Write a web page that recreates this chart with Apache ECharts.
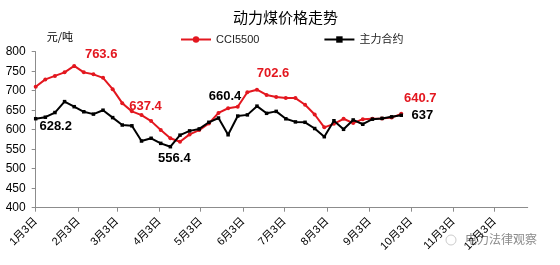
<!DOCTYPE html>
<html>
<head>
<meta charset="utf-8">
<script src="https://cdn.jsdelivr.net/npm/echarts@6/dist/echarts.min.js"></script>
<style>html,body{margin:0;padding:0;background:#fff;}#c{width:560px;height:265px;}</style>
</head>
<body>
<div id="c"></div>
<script>
// ---- data ----
var dates = ['1/3','1/10','1/17','1/24','1/31','2/7','2/14','2/21','2/28','3/7','3/14','3/21','3/28',
  '4/4','4/11','4/18','4/25','5/2','5/9','5/16','5/23','5/30','6/6','6/13','6/20','6/27',
  '7/4','7/11','7/18','7/25','8/1','8/8','8/15','8/22','8/29','9/5','9/12','9/19','9/26'];
var cci5500 = [710,729,738,747,763.6,747,742,733,704,668,647,637.4,622,599,578,569,588,599,616,643,655,659,696,702.6,689,684,681,681,664,639,606,615,628,617,627,628,629,631,640.7];
var mainContract = [628.2,632,644,672,659,646,640,650,631,612,610,571,578,565,556.4,586,597,602,619,630,587,635,638,660.4,642,647,628,620,619,603,582,623,601,625,614,627,629,633,637];
var tickDates = ['1/3','2/3','3/3','4/3','5/3','6/3','7/3','8/3','9/3','10/3','11/3','12/3'];
var tickLabels = ['1月3日','2月3日','3月3日','4月3日','5月3日','6月3日','7月3日','8月3日','9月3日','10月3日','11月3日','12月3日'];
var axisEndDate = '12/27';
var yTicks = {min: 400, max: 800, step: 50};

// ---- helpers ----
function dayOf(s) {
  var p = s.split('/');
  return (Date.UTC(2017, +p[0] - 1, +p[1]) - Date.UTC(2017, 0, 3)) / 86400000;
}
var tickDays = tickDates.map(dayOf);
var labelMap = {};
tickDays.forEach(function (d, i) { labelMap[d] = tickLabels[i]; });

var FONT = 'Liberation Sans, Arial, Noto Sans CJK SC, sans-serif';
var RED = '#e3171f';
var BLACK = '#000000';

function lbl(color, offset) {
  return {show: true, position: 'inside', offset: offset, color: color, fontWeight: 'bold',
    fontSize: 13, fontFamily: FONT, formatter: function (p) { return String(p.value[1]); }};
}
var redLabels = {4: [27, -11], 11: [4, -9], 23: [16, -16], 38: [19, -15]};
var blackLabels = {0: [20, 8], 14: [4, 12], 23: [-32, -10], 38: [21, 0]};

function build(values, labels, color) {
  return values.map(function (v, i) {
    var item = {value: [dayOf(dates[i]), v]};
    if (labels[i]) item.label = lbl(color, labels[i]);
    return item;
  });
}

var chart = echarts.init(document.getElementById('c'), null, {renderer: 'canvas'});
chart.setOption({
  animation: false,
  backgroundColor: '#fff',
  title: {
    text: '动力煤价格走势', left: 228, top: 5,
    textStyle: {fontSize: 15, fontWeight: 'normal', color: '#000', fontFamily: 'Noto Sans CJK SC'}
  },
  legend: {
    left: 175, top: 29, itemWidth: 30, itemHeight: 8, itemGap: 64,
    textStyle: {fontSize: 11, color: '#222', fontFamily: FONT},
    data: ['CCI5500', '主力合约']
  },
  grid: {left: 35.7, right: 32.3, top: 51.7, bottom: 57.3},
  xAxis: {
    type: 'value', min: 0, max: dayOf(axisEndDate),
    splitLine: {show: false},
    axisLine: {lineStyle: {color: '#8c8c8c', width: 1}},
    axisTick: {customValues: tickDays, length: 4, lineStyle: {color: '#8c8c8c'}},
    axisLabel: {
      customValues: tickDays, rotate: 45, fontSize: 11, color: '#000', fontFamily: FONT, margin: 12,
      formatter: function (v) { return labelMap[v] || ''; }
    }
  },
  yAxis: {
    type: 'value', min: yTicks.min, max: yTicks.max, interval: yTicks.step,
    name: '元/吨', nameLocation: 'end', nameGap: 9,
    nameTextStyle: {fontSize: 11, color: '#000', fontFamily: 'Noto Sans CJK SC', align: 'left', padding: [0, 0, 0, 11]},
    splitLine: {show: false},
    axisLine: {show: true, lineStyle: {color: '#8c8c8c', width: 1}},
    axisTick: {show: true, length: 4, lineStyle: {color: '#8c8c8c'}},
    axisLabel: {fontSize: 12, color: '#000', fontFamily: FONT, margin: 10}
  },
  graphic: [{
    type: 'text', left: 465, top: 233,
    style: {text: '电力法律观察', fill: '#8a8a8a', font: '12px "Noto Sans CJK SC"'}
  }, {
    type: 'circle', shape: {cx: 451, cy: 240, r: 5}, style: {fill: 'none', stroke: '#cccccc', lineWidth: 1}
  }],
  series: [{
    name: 'CCI5500', type: 'line', data: build(cci5500, redLabels, RED),
    symbol: 'circle', symbolSize: 4, showAllSymbol: true,
    itemStyle: {color: RED}, lineStyle: {color: RED, width: 2}, z: 2
  }, {
    name: '主力合约', type: 'line', data: build(mainContract, blackLabels, BLACK),
    symbol: 'rect', symbolSize: 3.5, showAllSymbol: true,
    itemStyle: {color: BLACK}, lineStyle: {color: BLACK, width: 2}, z: 3
  }]
});
</script>
</body>
</html>
